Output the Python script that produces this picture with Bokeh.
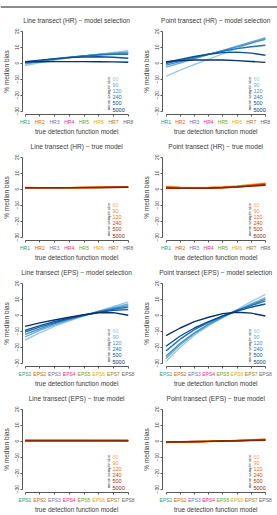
import math
from bokeh.plotting import figure
from bokeh.models import ColumnDataSource, FixedTicker, Span, Range1d
from bokeh.core.properties import value
from bokeh.layouts import gridplot, column
from bokeh.embed import file_html
from bokeh.resources import INLINE

FONT = "Liberation Sans"

# ---------------- data ----------------
sample_sizes = ["60", "90", "120", "240", "500", "5000"]
hr_models = ["HR1", "HR2", "HR3", "HR4", "HR5", "HR6", "HR7", "HR8"]
eps_models = ["EPS1", "EPS2", "EPS3", "EPS4", "EPS5", "EPS6", "EPS7", "EPS8"]
model_index = [1, 2, 3, 4, 5, 6, 7, 8]
model_colors = ["#1B9E77", "#D95F02", "#7570B3", "#E7298A",
                "#66A61E", "#E6AB02", "#A6761D", "#666666"]
blues = ["#9ECAE1", "#6BAED6", "#4292C6", "#2171B5", "#08519C", "#08306B"]
oranges = ["#FDAE6B", "#FD8D3C", "#F16913", "#D94801", "#A63603", "#7F2704"]
y_ticks = [-30, -20, -10, 0, 10, 20]

# % median bias per sample size (rows: 60, 90, 120, 240, 500, 5000)
line_hr_selection = [
    [-1.5, 0.3, 1.9, 3.3, 4.5, 5.6, 6.7, 7.8],
    [-0.6, 0.9, 2.3, 3.5, 4.6, 5.5, 6.3, 7.0],
    [0.0, 1.3, 2.5, 3.6, 4.6, 5.4, 6.0, 6.4],
    [0.5, 1.6, 2.7, 3.7, 4.5, 5.1, 5.5, 5.6],
    [0.9, 1.9, 2.8, 3.5, 3.9, 4.0, 3.7, 3.1],
    [0.8, 0.9, 1.0, 1.0, 1.0, 0.9, 0.8, 0.6],
]
point_hr_selection = [
    [-8.2, -4.3, -0.8, 2.5, 5.8, 9.2, 12.6, 16.0],
    [-2.5, 0.1, 2.8, 5.4, 8.0, 10.7, 13.3, 15.8],
    [-1.2, 1.0, 3.2, 5.5, 7.8, 10.2, 12.6, 15.0],
    [-0.2, 1.8, 3.8, 5.7, 7.5, 9.1, 10.3, 11.2],
    [0.6, 2.4, 4.2, 5.6, 6.6, 6.9, 6.3, 5.0],
    [1.0, 1.6, 2.0, 2.1, 2.0, 1.6, 1.1, 0.5],
]
line_hr_true = [
    [0.8, 0.8, 0.9, 1.0, 1.1, 1.2, 1.4, 1.6],
    [0.9, 0.9, 1.0, 1.0, 1.1, 1.2, 1.3, 1.5],
    [1.0, 0.9, 0.9, 1.0, 1.1, 1.2, 1.3, 1.4],
    [1.1, 1.0, 1.0, 1.0, 1.1, 1.1, 1.2, 1.3],
    [1.0, 1.0, 1.0, 1.0, 1.0, 1.1, 1.2, 1.3],
    [0.9, 0.9, 0.9, 0.9, 1.0, 1.0, 1.1, 1.2],
]
point_hr_true = [
    [1.8, 1.3, 1.1, 1.2, 1.5, 2.1, 2.9, 3.9],
    [1.5, 1.1, 0.9, 1.0, 1.3, 1.9, 2.7, 3.6],
    [1.3, 0.9, 0.8, 0.9, 1.2, 1.7, 2.5, 3.4],
    [1.1, 0.8, 0.7, 0.8, 1.1, 1.6, 2.3, 3.1],
    [0.9, 0.7, 0.6, 0.7, 1.0, 1.4, 2.1, 2.8],
    [0.7, 0.5, 0.5, 0.6, 0.9, 1.3, 1.9, 2.5],
]
line_eps_selection = [
    [-15.5, -11.0, -7.0, -3.5, -0.5, 2.5, 5.5, 8.3],
    [-13.5, -9.5, -6.0, -3.0, -0.3, 2.3, 4.8, 7.0],
    [-12.0, -8.5, -5.3, -2.5, 0.0, 2.3, 4.3, 6.0],
    [-10.5, -7.5, -4.7, -2.2, 0.0, 2.0, 3.7, 5.0],
    [-9.5, -6.5, -4.0, -1.8, 0.2, 1.8, 3.0, 3.5],
    [-7.0, -4.8, -3.0, -1.3, 0.3, 1.5, 1.6, 0.0],
]
point_eps_selection = [
    [-29.0, -20.0, -12.5, -6.5, -1.5, 3.5, 8.5, 13.0],
    [-27.0, -18.5, -11.5, -6.0, -1.3, 3.0, 7.0, 11.0],
    [-25.7, -17.5, -11.0, -5.5, -1.0, 3.0, 6.5, 10.0],
    [-22.3, -15.0, -9.0, -4.5, -0.5, 3.0, 6.0, 9.0],
    [-19.4, -13.0, -8.0, -4.0, -0.5, 2.5, 5.0, 7.0],
    [-12.8, -8.0, -4.0, -1.3, 1.0, 1.8, 1.3, -0.5],
]
line_eps_true = [
    [0.7, 0.7, 0.7, 0.7, 0.6, 0.6, 0.6, 0.5],
    [0.6, 0.6, 0.6, 0.6, 0.6, 0.5, 0.5, 0.5],
    [0.5, 0.5, 0.5, 0.5, 0.5, 0.5, 0.5, 0.4],
    [0.4, 0.4, 0.4, 0.4, 0.4, 0.4, 0.4, 0.4],
    [0.3, 0.3, 0.3, 0.3, 0.3, 0.3, 0.3, 0.3],
    [0.2, 0.2, 0.2, 0.2, 0.2, 0.2, 0.2, 0.2],
]
point_eps_true = [
    [-0.9, -0.7, -0.5, -0.2, 0.1, 0.5, 0.9, 1.4],
    [-0.8, -0.6, -0.4, -0.2, 0.1, 0.4, 0.8, 1.2],
    [-0.7, -0.5, -0.3, -0.1, 0.1, 0.4, 0.7, 1.0],
    [-0.6, -0.4, -0.3, -0.1, 0.1, 0.3, 0.6, 0.9],
    [-0.5, -0.4, -0.2, -0.1, 0.1, 0.3, 0.5, 0.7],
    [-0.4, -0.3, -0.2, -0.1, 0.1, 0.2, 0.4, 0.6],
]

# ---------------- layout constants (pixels) ----------------
ROW_H = 126
TOP_H = 11
PX_PER_Y = 1.6          # pixels per % unit
Y_TOP_VAL = 22.0        # value at plot-region top
PLOT_TOP_PX = 16.5      # plot-region top inside each row
Y_BOTTOM_VAL = -32.0    # value where the x axis sits
COLS = [  # width, pixel of model 1, pixels per model step, pixel of y axis
    dict(w=138, x1=24.5, step=14.75, yaxis=21.5),
    dict(w=139, x1=27.5, step=14.2, yaxis=23.5),
]
AXIS_COLOR = "#555555"
TEXT_COLOR = "#3a3a3a"


def make_panel(title, labels, series, colors, col):
    c = COLS[col]
    x_start = 1 - c["x1"] / c["step"]
    x_end = x_start + c["w"] / c["step"]
    y_end = Y_TOP_VAL + PLOT_TOP_PX / PX_PER_Y
    y_start = y_end - ROW_H / PX_PER_Y
    px_to_y = lambda px: y_end - px / PX_PER_Y
    px_to_x = lambda px: x_start + px / c["step"]

    p = figure(width=c["w"], height=ROW_H, x_range=Range1d(x_start, x_end),
               y_range=Range1d(y_start, y_end), output_backend="svg",
               toolbar_location=None, min_border=0)
    p.outline_line_color = None
    p.grid.visible = False
    p.background_fill_color = "white"
    p.border_fill_color = "white"

    for vals, colr in zip(series, colors):
        p.line(model_index, vals, line_color=colr, line_width=1.4)

    # x axis (line + ticks)
    xa = p.xaxis[0]
    xa.fixed_location = Y_BOTTOM_VAL
    xa.ticker = FixedTicker(ticks=model_index)
    xa.bounds = (1, 8)
    xa.major_label_overrides = {i: "" for i in model_index}
    xa.major_tick_out = 2
    xa.major_tick_in = 0
    xa.minor_tick_out = 0
    xa.minor_tick_in = 0
    xa.axis_line_color = AXIS_COLOR
    xa.major_tick_line_color = AXIS_COLOR

    # y axis
    ya = p.yaxis[0]
    ya.fixed_location = px_to_x(c["yaxis"])
    ya.ticker = FixedTicker(ticks=y_ticks)
    ya.bounds = (-30, 20)
    ya.major_label_orientation = "vertical"
    ya.major_tick_out = 2
    ya.major_tick_in = 0
    ya.minor_tick_out = 0
    ya.minor_tick_in = 0
    ya.major_label_standoff = 1
    ya.major_label_text_font = FONT
    ya.major_label_text_font_size = "5px"
    ya.major_label_text_color = TEXT_COLOR
    ya.axis_label = "% median bias"
    ya.axis_label_text_font = FONT
    ya.axis_label_text_font_size = "6.5px"
    ya.axis_label_text_font_style = "normal"
    ya.axis_label_text_color = TEXT_COLOR
    ya.axis_label_standoff = 3
    ya.axis_line_color = AXIS_COLOR
    ya.major_tick_line_color = AXIS_COLOR

    # title
    p.text(x=[4.5], y=[px_to_y(9)], text=[title], text_font=value(FONT),
           text_font_size="6.6px", text_color=TEXT_COLOR, text_align="center",
           text_baseline="middle")
    # x axis title
    p.text(x=[4.5], y=[px_to_y(120)], text=["true detection function model"],
           text_font=value(FONT), text_font_size="6.5px", text_color=TEXT_COLOR,
           text_align="center", text_baseline="middle")
    # coloured x tick labels
    tick_src = ColumnDataSource(dict(x=model_index, y=[Y_BOTTOM_VAL] * 8,
                                     text=labels, color=model_colors))
    p.text(x="x", y="y", text="text", source=tick_src, y_offset=8,
           text_color="color", text_font=value(FONT), text_font_size="5px",
           text_align="center", text_baseline="middle")

    # legend: mean sample size
    n = len(sample_sizes)
    leg_src = ColumnDataSource(dict(
        x=[px_to_x(c["x1"] + 87.5)] * n,
        y=[px_to_y(67 + 6.2 * i) for i in range(n)],
        text=sample_sizes, color=colors))
    p.text(x="x", y="y", text="text", source=leg_src, text_color="color",
           text_font=value(FONT), text_font_size="5.5px", text_align="left",
           text_baseline="middle")
    p.text(x=[px_to_x(c["x1"] + 83.5)], y=[px_to_y(82)], text=["mean sample size"],
           angle=math.pi / 2, text_font=value(FONT), text_font_size="4.2px",
           text_color=TEXT_COLOR, text_align="center", text_baseline="middle")
    return p


panels = [
    make_panel("Line transect (HR) − model selection", hr_models, line_hr_selection, blues, 0),
    make_panel("Point transect (HR) − model selection", hr_models, point_hr_selection, blues, 1),
    make_panel("Line transect (HR) − true model", hr_models, line_hr_true, oranges, 0),
    make_panel("Point transect (HR) − true model", hr_models, point_hr_true, oranges, 1),
    make_panel("Line transect (EPS) − model selection", eps_models, line_eps_selection, blues, 0),
    make_panel("Point transect (EPS) − model selection", eps_models, point_eps_selection, blues, 1),
    make_panel("Line transect (EPS) − true model", eps_models, line_eps_true, oranges, 0),
    make_panel("Point transect (EPS) − true model", eps_models, point_eps_true, oranges, 1),
]

top = figure(width=277, height=TOP_H, x_range=Range1d(0, 1), y_range=Range1d(0, TOP_H),
             output_backend="svg", toolbar_location=None, min_border=0,
             x_axis_type=None, y_axis_type=None)
top.outline_line_color = None
top.grid.visible = False
top.add_layout(Span(location=TOP_H - 5.5, dimension="width", line_color="#8c8c8c", line_width=2))

grid = gridplot([panels[0:2], panels[2:4], panels[4:6], panels[6:8]], toolbar_location=None)
layout = column(top, grid)

open("out.html", "w").write(file_html(layout, INLINE))
